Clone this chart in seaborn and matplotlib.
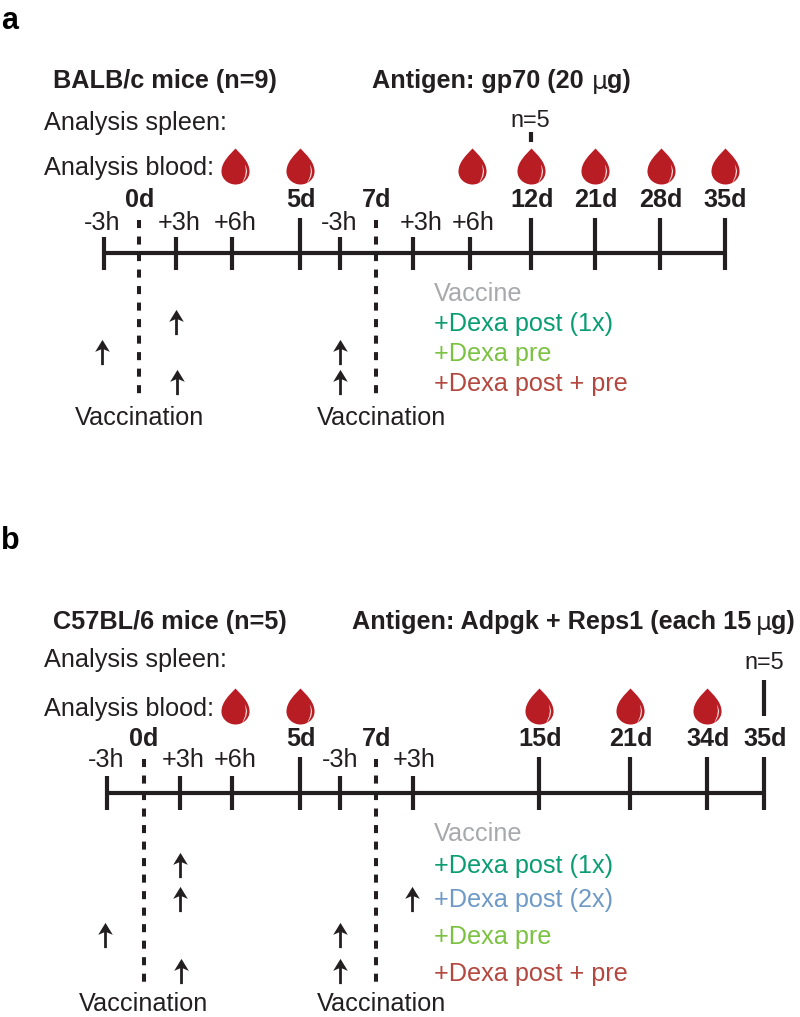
import matplotlib
matplotlib.use("Agg")
import matplotlib.pyplot as plt
import seaborn as sns
import pandas as pd
from matplotlib.path import Path

sns.set_theme(style="white")
plt.rcParams['font.family'] = ['Liberation Sans', 'DejaVu Sans']

INK = "#231f20"
DROP = "#b81d24"
C_VAC, C_POST, C_POST2, C_PRE, C_BOTH = "#a7a9ac", "#0a9d73", "#6f9ac6", "#7cc242", "#b4473f"

# Panel a
a_short_x = [104, 176, 232, 340, 413, 470]
a_long_x = [300, 531, 595, 660, 725]
a_dash_x = [139, 376]
a_drop_x = [235, 300, 472, 531, 595, 661, 725]
a_arrow_x = [176, 102, 340, 177, 340]
a_arrow_y = [322, 352, 352, 382, 382]
a_hours = [("-3h", 102), ("+3h", 179), ("+6h", 235), ("-3h", 339), ("+3h", 421), ("+6h", 473)]
a_days = [("0d", 140), ("5d", 301), ("7d", 377), ("12d", 532), ("21d", 596), ("28d", 661), ("35d", 725)]
a_legend = [("Vaccine", C_VAC, 294), ("+Dexa post (1x)", C_POST, 324), ("+Dexa pre", C_PRE, 354), ("+Dexa post + pre", C_BOTH, 384)]

# Panel b
b_short_x = [107, 180, 232, 340, 413]
b_long_x = [300, 539, 630, 707, 764]
b_dash_x = [144, 376]
b_drop_x = [235, 300, 539, 630, 707]
b_arrow_x = [180, 180, 412, 105, 340, 181, 340]
b_arrow_y = [865, 899, 899, 935, 935, 971, 971]
b_hours = [("-3h", 106), ("+3h", 183), ("+6h", 235), ("-3h", 340), ("+3h", 414)]
b_days = [("0d", 144), ("5d", 301), ("7d", 377), ("15d", 540), ("21d", 631), ("34d", 708), ("35d", 765)]
b_legend = [("Vaccine", C_VAC, 834), ("+Dexa post (1x)", C_POST, 866), ("+Dexa post (2x)", C_POST2, 900), ("+Dexa pre", C_PRE, 937), ("+Dexa post + pre", C_BOTH, 974)]

FS = 18.2
fig = plt.figure(figsize=(8, 10.17), dpi=100, facecolor="white")
ax = fig.add_axes([0, 0, 1, 1])
ax.set_xlim(0, 800)
ax.set_ylim(1017, 0)
ax.axis("off")

# marker paths: y points up in marker space
drop_path = Path(
    [(0, 1.0), (0.32, 0.66), (0.78, 0.25), (0.78, -0.28), (0.78, -0.70), (0.40, -1.0), (0, -1.0),
     (-0.40, -1.0), (-0.78, -0.70), (-0.78, -0.28), (-0.78, 0.25), (-0.32, 0.66), (0, 1.0), (0, 1.0)],
    [Path.MOVETO, Path.CURVE4, Path.CURVE4, Path.CURVE4, Path.CURVE4, Path.CURVE4, Path.CURVE4,
     Path.CURVE4, Path.CURVE4, Path.CURVE4, Path.CURVE4, Path.CURVE4, Path.CURVE4, Path.CLOSEPOLY])
shine_path = Path([(0.42, 0.10), (0.70, -0.3), (0.26, -0.82), (0.26, -0.82),
                   (0.58, -0.3), (0.42, 0.10), (0.42, 0.10)],
                  [Path.MOVETO, Path.CURVE3, Path.CURVE3, Path.LINETO,
                   Path.CURVE3, Path.CURVE3, Path.CLOSEPOLY])
arrow_path = Path([(-0.11, -1), (0.11, -1), (0.11, 0.25), (0.58, 0.05), (0, 1), (-0.58, 0.05), (-0.11, 0.25), (-0.11, -1)],
                  [Path.MOVETO] + [Path.LINETO] * 6 + [Path.CLOSEPOLY])


def seg(xs, y0, y1, lw):
    for x in xs:
        d = pd.DataFrame({"x": [x, x], "y": [y0, y1]})
        sns.lineplot(data=d, x="x", y="y", ax=ax, color=INK, lw=lw, sort=False, estimator=None,
                     solid_capstyle="butt", legend=False)


def panel(short_x, long_x, dash_x, drop_x, arrow_x, arrow_y, hours, days, legend,
          axis_y, short_top, long_top, bottom, dash_bottom, drop_y, day_y, hour_y, leg_x, end_x):
    d = pd.DataFrame({"x": [min(short_x), end_x], "y": [axis_y, axis_y]})
    sns.lineplot(data=d, x="x", y="y", ax=ax, color=INK, lw=3.0, estimator=None,
                 solid_capstyle="butt", legend=False)
    seg(short_x, short_top, bottom, 3.0)
    seg(long_x, long_top, bottom, 3.0)
    for x in dash_x:
        d = pd.DataFrame({"x": [x, x], "y": [long_top + 2, dash_bottom]})
        sns.lineplot(data=d, x="x", y="y", ax=ax, color=INK, lw=2.9, estimator=None, sort=False,
                     linestyle=(0, (2, 2.1)), dash_capstyle="butt", legend=False)
    dd = pd.DataFrame({"x": drop_x, "y": [drop_y] * len(drop_x)})
    sns.scatterplot(data=dd, x="x", y="y", ax=ax, marker=drop_path, s=672, color=DROP, linewidth=0, legend=False, zorder=4)
    sns.scatterplot(data=dd, x="x", y="y", ax=ax, marker=shine_path, s=672, color="#f6dcdc", linewidth=0, legend=False, zorder=5)
    da = pd.DataFrame({"x": arrow_x, "y": arrow_y})
    sns.scatterplot(data=da, x="x", y="y", ax=ax, marker=arrow_path, s=330, color=INK, linewidth=0, legend=False, zorder=4)
    for t, x in hours:
        ax.text(x, hour_y, t, ha="center", va="center", fontsize=FS, color=INK)
    for t, x in days:
        ax.text(x, day_y, t, ha="center", va="center", fontsize=FS, fontweight="bold", color=INK)
    for t, c, y in legend:
        ax.text(leg_x, y, t, ha="left", va="center", fontsize=FS, color=c)


panel(a_short_x, a_long_x, a_dash_x, a_drop_x, a_arrow_x, a_arrow_y, a_hours, a_days, a_legend,
      253, 237, 218, 270, 398, 166, 200, 223, 434, 725)
panel(b_short_x, b_long_x, b_dash_x, b_drop_x, b_arrow_x, b_arrow_y, b_hours, b_days, b_legend,
      793, 776, 757, 810, 986, 706, 739, 760, 434, 764)

seg([531], 132, 142, 3.0)
seg([764], 680, 716, 3.0)

ax.text(1, 21, "a", fontsize=22, fontweight="bold", color="black", va="center")
ax.text(1, 541, "b", fontsize=22, fontweight="bold", color="black", va="center")


def bold(x, y, t):
    ax.text(x, y, t, fontsize=FS, fontweight="bold", color=INK, va="center")


def norm(x, y, t, **k):
    ax.text(x, y, t, fontsize=FS, color=INK, va="center", **k)


bold(53, 81, "BALB/c mice (n=9)")
bold(372, 81, "Antigen: gp70 (20")
norm(592, 82, "µ", family=["DejaVu Sans"])
bold(607, 81, "g)")
norm(44, 123, "Analysis spleen:")
norm(44, 168, "Analysis blood:")
ax.text(530, 121, "n=5", ha="center", va="center", fontsize=FS * 0.93, color=INK)

bold(53, 622, "C57BL/6 mice (n=5)")
bold(352, 622, "Antigen: Adpgk + Reps1 (each 15")
norm(756, 623, "µ", family=["DejaVu Sans"])
bold(771, 622, "g)")
norm(44, 660, "Analysis spleen:")
norm(44, 709, "Analysis blood:")
ax.text(764, 663, "n=5", ha="center", va="center", fontsize=FS * 0.93, color=INK)

for x, y in [(140, 418), (382, 418), (144, 1004), (382, 1004)]:
    ax.text(x, y, "Vaccination", ha="center", va="center", fontsize=FS, color=INK)

fig.savefig("out.png", dpi=100, facecolor="white")
